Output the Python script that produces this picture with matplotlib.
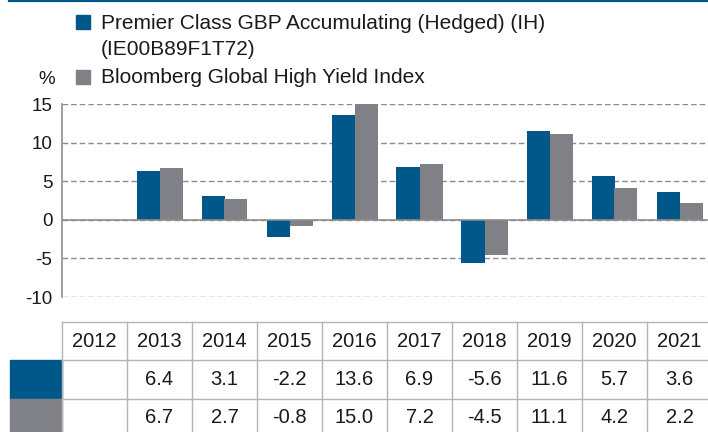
"""
Calendar-year returns: fund vs benchmark, bar chart with a data table below.
"""

import matplotlib.pyplot as plt
import numpy as np
from matplotlib.lines import Line2D
from matplotlib.patches import Rectangle

# Chart data
YEARS = ["2012", "2013", "2014", "2015", "2016", "2017", "2018", "2019", "2020", "2021"]
FUND = [np.nan, 6.4, 3.1, -2.2, 13.6, 6.9, -5.6, 11.6, 5.7, 3.6]
INDEX = [np.nan, 6.7, 2.7, -0.8, 15.0, 7.2, -4.5, 11.1, 4.2, 2.2]
SERIES_LABELS = [
    "Premier Class GBP Accumulating (Hedged) (IH)\n(IE00B89F1T72)",
    "Bloomberg Global High Yield Index",
]
Y_TICKS = [-10, -5, 0, 5, 10, 15]

# Styling
BLUE = "#00578A"
GREY = "#808186"
AXIS_GREY = "#8c8c8c"
TABLE_LINE = "#b4b4b4"
TEXT = "#1a1a1a"
W, H = 708, 432

plt.rcParams["font.family"] = ["Liberation Sans", "DejaVu Sans"]
plt.rcParams["axes.unicode_minus"] = False


def px_box(x0, y0, x1, y1):
    """Convert a pixel box (top-left origin) to figure fractions."""
    return [x0 / W, 1 - y1 / H, (x1 - x0) / W, (y1 - y0) / H]


def main() -> None:
    fig = plt.figure(figsize=(W / 100, H / 100), dpi=100)

    x = np.arange(len(YEARS))
    fund = np.array(FUND, dtype=float)
    index = np.array(INDEX, dtype=float)
    has = ~np.isnan(fund)
    bw = 23 / 65

    # Bar chart
    ax = fig.add_axes(px_box(62, 104.3, 712, 297))
    ax.bar(x[has] - bw / 2, fund[has], bw, color=BLUE, zorder=2)
    ax.bar(x[has] + bw / 2, index[has], bw, color=GREY, zorder=2)
    ax.set_xlim(-0.5, len(YEARS) - 0.5)
    ax.set_ylim(min(Y_TICKS), max(Y_TICKS))
    ax.set_yticks(Y_TICKS)
    ax.set_yticklabels([str(t) for t in Y_TICKS], fontsize=13.5, color=TEXT)
    ax.set_xticks([])
    ax.tick_params(axis="y", length=0, pad=7)
    ax.yaxis.grid(True, linestyle=(0, (4, 2.2)), color=AXIS_GREY, lw=1)
    ax.set_axisbelow(True)
    ax.axhline(0, color=AXIS_GREY, lw=1.2, zorder=3)
    for side in ("top", "right", "bottom"):
        ax.spines[side].set_visible(False)
    ax.spines["left"].set_color(AXIS_GREY)
    ax.spines["left"].set_linewidth(1.2)

    # Unit label
    fig.text(47 / W, 1 - 80 / H, "%", fontsize=13.5, color=TEXT, ha="center", va="center")

    # Legend (manual): swatch + text lines at measured baselines
    fig.add_artist(Rectangle((76 / W, 1 - 29 / H), 14 / W, 14 / H,
                             transform=fig.transFigure, color=BLUE))
    fig.add_artist(Rectangle((76 / W, 1 - 84 / H), 14 / W, 14 / H,
                             transform=fig.transFigure, color=GREY))
    first_lines = SERIES_LABELS[0].split("\n")
    for line, base in zip(first_lines, (29.3, 55.0)):
        fig.text(101 / W, 1 - base / H, line, fontsize=15, color=TEXT,
                 ha="left", va="baseline")
    fig.text(101 / W, 1 - 83.3 / H, SERIES_LABELS[1], fontsize=15, color=TEXT,
             ha="left", va="baseline")

    # Top rule
    fig.add_artist(Line2D([9 / W, 1], [1 - 1 / H, 1 - 1 / H],
                          transform=fig.transFigure, color=BLUE, lw=1.6))

    # Data table
    sw = 52 / 65
    tab = fig.add_axes(px_box(10, 322, 712, 437))
    tab.set_xlim(-0.5 - sw, len(YEARS) - 0.5)
    tab.set_ylim(3, 0)
    tab.axis("off")
    for i in range(len(YEARS) + 1):
        tab.plot([i - 0.5, i - 0.5], [0, 3], color=TABLE_LINE, lw=1, clip_on=False)
    for r in range(3):
        tab.plot([-0.5, len(YEARS) - 0.5], [r, r], color=TABLE_LINE, lw=1, clip_on=False)
    tab.add_patch(Rectangle((-0.5 - sw, 1), sw, 1, color=BLUE, clip_on=False))
    tab.add_patch(Rectangle((-0.5 - sw, 2), sw, 1, color=GREY, clip_on=False))

    for i, year in enumerate(YEARS):
        tab.text(i, 0.5, year, fontsize=14.5, color=TEXT, ha="center", va="center")
        for row, vals in ((1.5, FUND), (2.5, INDEX)):
            if not np.isnan(vals[i]):
                tab.text(i, row, f"{vals[i]:.1f}", fontsize=14.5, color=TEXT,
                         ha="center", va="center")

    fig.savefig("out.png", dpi=100)
    plt.close(fig)


if __name__ == "__main__":
    main()
